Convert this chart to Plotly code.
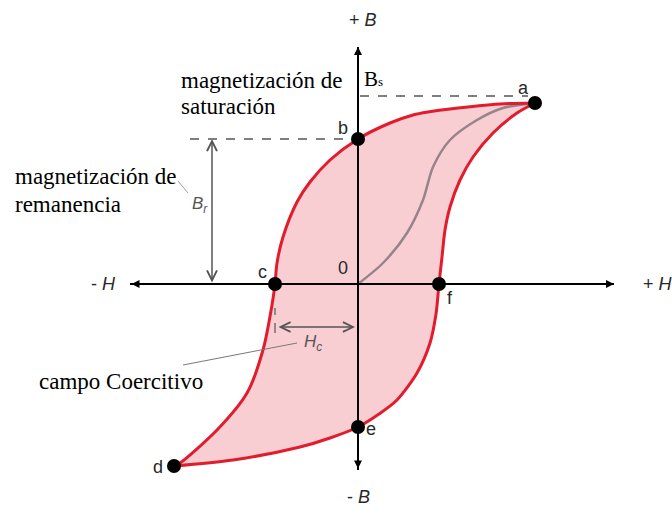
import plotly.graph_objects as go

# Descending branch of the hysteresis loop: a -> b -> c -> d
H_desc = [1.77, 1.42, 0.92, 0.70, 0.55, 0.32, 0.00, -0.28, -0.48, -0.61, -0.75, -0.81, -0.83,
          -0.86, -0.95, -1.11, -1.41, -1.78, -1.84]
B_desc = [1.81, 1.80, 1.75, 1.72, 1.69, 1.61, 1.45, 1.24, 1.02, 0.82, 0.47, 0.21, 0.00,
          -0.21, -0.66, -1.09, -1.46, -1.79, -1.82]

# Ascending branch: d -> e -> f -> a
H_asc = [-1.84, -1.25, -0.58, -0.28, 0.00, 0.21, 0.39, 0.59, 0.72, 0.78, 0.81, 0.84, 0.87,
         0.92, 1.02, 1.15, 1.35, 1.59, 1.77]
B_asc = [-1.82, -1.76, -1.63, -1.54, -1.43, -1.30, -1.16, -0.89, -0.59, -0.30, 0.00, 0.27, 0.54,
         0.77, 1.04, 1.27, 1.51, 1.71, 1.81]

# Initial magnetization curve: 0 -> a
H_init = [0.00, 0.25, 0.49, 0.65, 0.75, 0.92, 1.19, 1.45, 1.77]
B_init = [0.00, 0.21, 0.51, 0.84, 1.17, 1.44, 1.64, 1.76, 1.81]

# Marked points
pt_names = ["a", "b", "c", "d", "e", "f"]
pt_H = [1.77, 0.00, -0.83, -1.84, 0.00, 0.81]
pt_B = [1.81, 1.45, 0.00, -1.82, -1.43, 0.00]

B_sat = 1.88      # saturation level
B_rem = 1.45      # remanence
H_coer = -0.82    # coercive field
H_axis = [-2.28, 2.56]
B_axis = [-1.86, 2.37]

RED = "rgb(225,28,45)"
PINK = "rgb(249,206,211)"
GREY = "rgb(150,132,138)"
DARK = "rgb(85,85,85)"
SANS = "Liberation Sans"
SERIF = "Liberation Serif"

fig = go.Figure()

# filled loop
fig.add_trace(go.Scatter(
    x=H_desc + H_asc[1:], y=B_desc + B_asc[1:], mode="lines",
    line=dict(width=0, shape="spline", smoothing=0.8),
    fill="toself", fillcolor=PINK, hoverinfo="skip"))

# axes
fig.add_trace(go.Scatter(x=H_axis, y=[0, 0], mode="lines",
                         line=dict(color="black", width=2), hoverinfo="skip"))
fig.add_trace(go.Scatter(x=[0, 0], y=B_axis, mode="lines",
                         line=dict(color="black", width=2), hoverinfo="skip"))

# initial curve
fig.add_trace(go.Scatter(x=H_init, y=B_init, mode="lines",
                         line=dict(color=GREY, width=2.5, shape="spline", smoothing=0.8),
                         hoverinfo="skip"))
# loop outline
for hx, by in ((H_desc, B_desc), (H_asc, B_asc)):
    fig.add_trace(go.Scatter(x=hx, y=by, mode="lines",
                             line=dict(color=RED, width=3, shape="spline", smoothing=0.8),
                             hoverinfo="skip"))

# points
fig.add_trace(go.Scatter(x=pt_H, y=pt_B, mode="markers",
                         marker=dict(color="black", size=14), hoverinfo="skip"))

shapes = [
    dict(type="line", x0=0.02, x1=1.70, y0=B_sat, y1=B_sat,
         line=dict(color="black", width=1.2, dash="dash")),
    dict(type="line", x0=-1.68, x1=0, y0=B_rem, y1=B_rem,
         line=dict(color="black", width=1.2, dash="dash")),
    # coercive field guide ticks
    dict(type="line", x0=H_coer - 0.01, x1=H_coer - 0.01, y0=-0.24, y1=-0.31,
         line=dict(color=DARK, width=1.2)),
    dict(type="line", x0=H_coer - 0.01, x1=H_coer - 0.01, y0=-0.39, y1=-0.49,
         line=dict(color=DARK, width=1.2)),
    # leader lines
    dict(type="line", x0=-1.80, x1=-1.70, y0=1.03, y1=0.91,
         line=dict(color="rgb(160,160,160)", width=1)),
    dict(type="line", x0=-1.75, x1=-0.61, y0=-0.81, y1=-0.59,
         line=dict(color="rgb(120,120,120)", width=1)),
]

ann = []
# axis arrowheads
ann.append(dict(x=H_axis[1], y=0, ax=H_axis[0], ay=0, xref="x", yref="y", axref="x", ayref="y",
                text="", showarrow=True, arrowhead=2, startarrowhead=2, arrowside="end+start",
                arrowsize=0.8, arrowwidth=2, arrowcolor="black", standoff=0, startstandoff=0))
ann.append(dict(x=0, y=B_axis[1], ax=0, ay=B_axis[0], xref="x", yref="y", axref="x", ayref="y",
                text="", showarrow=True, arrowhead=2, startarrowhead=2, arrowside="end+start",
                arrowsize=0.8, arrowwidth=2, arrowcolor="black", standoff=0, startstandoff=0))
# Br arrow
ann.append(dict(x=-1.46, y=B_rem, ax=-1.46, ay=0, xref="x", yref="y", axref="x", ayref="y",
                text="", showarrow=True, arrowhead=5, startarrowhead=5, arrowside="end+start",
                arrowsize=1.3, arrowwidth=1.5, arrowcolor=DARK, standoff=0, startstandoff=0))
# Hc arrow
ann.append(dict(x=-0.03, y=-0.43, ax=H_coer + 0.01, ay=-0.43, xref="x", yref="y", axref="x", ayref="y",
                text="", showarrow=True, arrowhead=5, startarrowhead=5, arrowside="end+start",
                arrowsize=1.3, arrowwidth=1.5, arrowcolor=DARK, standoff=0, startstandoff=0))


def label(x, y, text, size=18, color="rgb(40,40,40)", family=SANS, xanchor="center"):
    ann.append(dict(x=x, y=y, xref="x", yref="y", text=text, showarrow=False,
                    font=dict(family=family, size=size, color=color),
                    xanchor=xanchor, yanchor="middle"))


label(0.05, 2.64, "+ <i>B</i>")
label(0.00, -2.13, "- <i>B</i>")
label(-2.55, 0.00, "- <i>H</i>")
label(3.00, 0.00, "+ <i>H</i>")

for name, dx, dy in zip(pt_names, [-0.12, -0.15, -0.13, -0.16, 0.13, 0.11],
                        [0.15, 0.11, 0.12, -0.01, -0.02, -0.14]):
    i = pt_names.index(name)
    label(pt_H[i] + dx, pt_B[i] + dy, name)
label(-0.15, 0.16, "0")

label(-1.58, 0.79, "<i>B<sub>r</sub></i>", size=17, color=DARK)
label(-0.45, -0.59, "<i>H<sub>c</sub></i>", size=17, color=DARK)

label(0.04, 2.05, "B<span style='font-size:13px'>s</span>", size=21, color="black",
      family=SERIF, xanchor="left")
label(-1.79, 2.04, "magnetización de", size=23, color="black", family=SERIF, xanchor="left")
label(-1.79, 1.78, "saturación", size=23, color="black", family=SERIF, xanchor="left")
label(-3.45, 1.08, "magnetización de", size=23, color="black", family=SERIF, xanchor="left")
label(-3.45, 0.80, "remanencia", size=23, color="black", family=SERIF, xanchor="left")
label(-3.21, -0.97, "campo Coercitivo", size=23, color="black", family=SERIF, xanchor="left")

fig.update_layout(
    width=672, height=514, margin=dict(l=0, r=0, t=0, b=0),
    paper_bgcolor="white", plot_bgcolor="white", showlegend=False,
    xaxis=dict(range=[-3.58, 3.14], visible=False, fixedrange=True),
    yaxis=dict(range=[-2.30, 2.84], visible=False, fixedrange=True),
    shapes=shapes, annotations=ann,
)

fig.write_html("out.html")
